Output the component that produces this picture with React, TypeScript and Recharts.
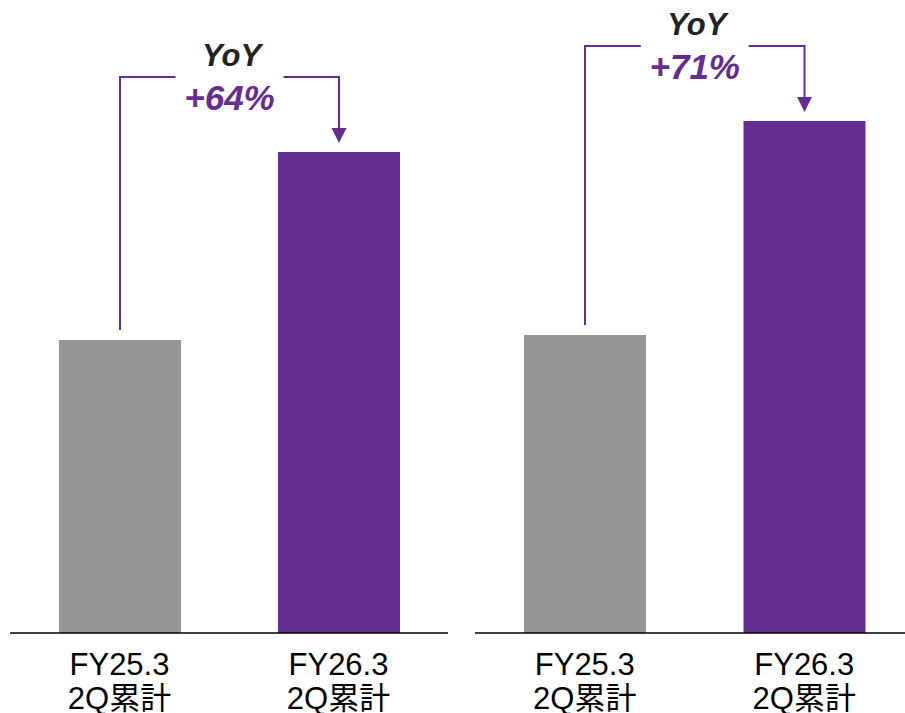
import { Bar, BarChart, Cell, LabelList, XAxis, YAxis } from "recharts";

const CATEGORIES = ["FY25.3", "FY26.3"];
const CATEGORY_SUB = "2Q累計";
const LEFT_VALUES = [29.3, 48.1];
const RIGHT_VALUES = [29.8, 51.2];
const LEFT_YOY = "+64%";
const RIGHT_YOY = "+71%";
const Y_DOMAIN = [0, 60];

const GRAY = "#969696";
const PURPLE = "#662d91";
const FONT = "'Liberation Sans', Arial, 'Noto Sans CJK JP', sans-serif";

const CHART_H = 713;
const MARGIN = { top: 33, right: 0, bottom: 0, left: 0 };
const AXIS_H = 80;

const CategoryTick = (props: any) => {
  const { x, y, payload } = props;
  return (
    <g>
      <text x={x} y={y + 34} textAnchor="middle" fontSize={31} fill="#000" fontFamily={FONT}>
        {payload.value}
      </text>
      <text x={x} y={y + 68} textAnchor="middle" fontSize={31} fill="#000" fontFamily={FONT}>
        {CATEGORY_SUB}
      </text>
    </g>
  );
};

const makeBracket = (values: number[], yoy: string, step: number) => (props: any) => {
  const vb = props.viewBox ?? props;
  const { index } = props;
  if (index !== 1) return null;
  const x = Number(vb.x);
  const y = Number(vb.y);
  const w = Number(vb.width);
  const h = Number(vb.height);
  const base = y + h;
  const cx = x + w / 2;
  const gx = cx - step;
  const grayTop = base - (h * values[0]) / values[1];
  const level = y - 75;
  const mid = (cx + gx) / 2;
  const gap = 54;
  const tip = y - 9;
  return (
    <g>
      <polyline
        points={`${gx},${grayTop - 10} ${gx},${level} ${mid - gap},${level}`}
        fill="none"
        stroke={PURPLE}
        strokeWidth={2}
      />
      <polyline
        points={`${mid + gap},${level} ${cx},${level} ${cx},${tip - 14}`}
        fill="none"
        stroke={PURPLE}
        strokeWidth={2}
      />
      <polygon points={`${cx - 7.5},${tip - 15} ${cx + 7.5},${tip - 15} ${cx},${tip}`} fill={PURPLE} />
      <text
        x={mid + 2}
        y={y - 86}
        textAnchor="middle"
        fontSize={31}
        fontWeight="bold"
        fontStyle="italic"
        fill="#222"
        fontFamily={FONT}
      >
        YoY
      </text>
      <text
        x={mid}
        y={y - 42}
        textAnchor="middle"
        fontSize={35}
        fontWeight="bold"
        fontStyle="italic"
        fill={PURPLE}
        fontFamily={FONT}
      >
        {yoy}
      </text>
    </g>
  );
};

const YoyChart = ({
  values,
  yoy,
  width,
  marginLeft,
}: {
  values: number[];
  yoy: string;
  width: number;
  marginLeft: number;
}) => {
  const data = CATEGORIES.map((name, i) => ({ name, value: values[i] }));
  const step = (width - marginLeft - MARGIN.right) / CATEGORIES.length;
  return (
    <BarChart
      width={width}
      height={CHART_H}
      data={data}
      margin={{ ...MARGIN, left: marginLeft }}
      style={{ overflow: "visible" }}
    >
      <YAxis hide domain={Y_DOMAIN} />
      <XAxis
        dataKey="name"
        height={AXIS_H}
        tickLine={false}
        axisLine={{ stroke: "#000", strokeWidth: 1.5 }}
        tick={<CategoryTick />}
        interval={0}
      />
      <Bar dataKey="value" barSize={122} isAnimationActive={false}>
        {data.map((d, i) => (
          <Cell key={d.name} fill={i === 0 ? GRAY : PURPLE} />
        ))}
        <LabelList dataKey="value" content={makeBracket(values, yoy, step)} />
      </Bar>
    </BarChart>
  );
};

export default function App() {
  return (
    <div
      style={{
        position: "absolute",
        left: 0,
        top: 0,
        width: 905,
        height: 713,
        overflow: "hidden",
        background: "#fff",
      }}
    >
      <div style={{ position: "absolute", left: 0, top: 0 }}>
        <YoyChart values={LEFT_VALUES} yoy={LEFT_YOY} width={448} marginLeft={10} />
      </div>
      <div style={{ position: "absolute", left: 475, top: 0 }}>
        <YoyChart values={RIGHT_VALUES} yoy={RIGHT_YOY} width={439} marginLeft={0} />
      </div>
    </div>
  );
}
